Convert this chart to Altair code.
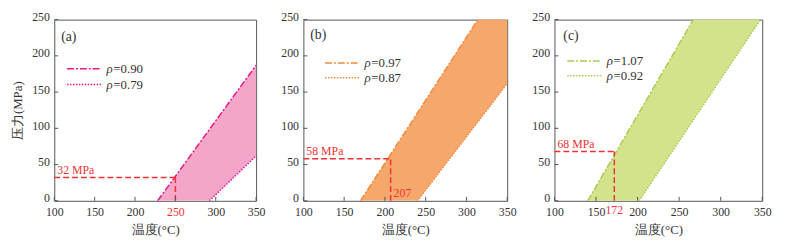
import altair as alt
import pandas as pd

# ---- data ----
panel_tags = ["(a)", "(b)", "(c)"]
rho_high = [0.90, 0.97, 1.07]
rho_low = [0.79, 0.87, 0.92]
# temperature (°C) at which each isochore crosses 0 MPa and 250 MPa
t_high_at_0 = [228, 170, 140]
t_high_at_250 = [391, 314, 267]
t_low_at_0 = [292, 240, 202]
t_low_at_250 = [526, 410, 348]
p_levels = [0, 250]
mark_t = [250, 207, 172]
mark_p = [32, 58, 68]
x_ticks = [100, 150, 200, 250, 300, 350]
y_ticks = [0, 50, 100, 150, 200, 250]

# ---- styles ----
line_colors = ["#e8168c", "#f28a3a", "#a8cb52"]
fill_colors = ["#f4a6c8", "#f6a76c", "#d3e38b"]
RED = "#ee3333"
AX = "#555555"
TXT = "#333333"
FONT = "'Liberation Serif', 'Times New Roman', serif"
widths = [205, 207, 211]
H = 184
# legend / tag placement inside each panel (px from panel's top-left)
leg_x0 = [13, 22, 13]
leg_y = [[50, 66], [44, 59], [42, 57]]
tag_pos = [(7, 18), (7, 16), (9, 17)]
DASHDOT = [7, 2, 2, 2]
DOT = [1.5, 1.5]


def panel(i):
    W = widths[i]
    xs = alt.Scale(domain=[x_ticks[0], x_ticks[-1]], nice=False, zero=False)
    ys = alt.Scale(domain=[y_ticks[0], y_ticks[-1]], nice=False, zero=False)
    xaxis_kw = dict(values=x_ticks, title="温度(°C)", grid=False, ticks=False,
                    domain=False, labelPadding=6, titlePadding=6,
                    labelOverlap=False, labelFlush=False)
    if i == 0:
        xaxis_kw["labelColor"] = alt.ExprRef(
            expr=f"datum.value == {mark_t[0]} ? '{RED}' : '{TXT}'")
    xaxis = alt.Axis(**xaxis_kw)
    yaxis = alt.Axis(values=y_ticks, title="压力(MPa)" if i == 0 else None,
                     grid=False, ticks=False, domain=False, labelPadding=5,
                     titlePadding=7, labelOverlap=False, labelFlush=False,
                     labelOffset=-3)

    band = pd.DataFrame({
        "P": p_levels,
        "Th": [t_high_at_0[i], t_high_at_250[i]],
        "Tl": [t_low_at_0[i], t_low_at_250[i]],
    })
    lc = line_colors[i]

    def X(f):
        return alt.X(f, scale=xs, axis=xaxis)

    def Y(f):
        return alt.Y(f, scale=ys, axis=yaxis)

    area = alt.Chart(band).mark_area(orient="horizontal", clip=True,
                                     color=fill_colors[i], opacity=1).encode(
        y=Y("P:Q"), x=X("Th:Q"), x2="Tl:Q")
    hi = alt.Chart(band).mark_line(clip=True, color=lc, strokeWidth=1.5,
                                   strokeDash=DASHDOT).encode(
        x=X("Th:Q"), y=Y("P:Q"))
    lo = alt.Chart(band).mark_line(clip=True, color=lc, strokeWidth=1.5,
                                   strokeDash=DOT).encode(
        x=X("Tl:Q"), y=Y("P:Q"))

    ann = pd.DataFrame({
        "x0": [x_ticks[0]], "T": [mark_t[i]], "P": [mark_p[i]],
        "p0": [y_ticks[0]], "plabel": [f"{mark_p[i]} MPa"],
        "tlabel": [str(mark_t[i])],
    })
    hrule = alt.Chart(ann).mark_rule(color=RED, strokeDash=[6, 3],
                                     strokeWidth=1.5).encode(
        x=X("x0:Q"), x2="T:Q", y=Y("P:Q"))
    vrule = alt.Chart(ann).mark_rule(color=RED, strokeDash=[6, 3],
                                     strokeWidth=1.5).encode(
        x=X("T:Q"), y=Y("p0:Q"), y2="P:Q")
    ptext = alt.Chart(ann).mark_text(align="left", baseline="bottom", dx=3,
                                     dy=-1, color=RED, font=FONT,
                                     fontSize=12).encode(
        x=X("x0:Q"), y=Y("P:Q"), text="plabel:N")
    layers = [area, hi, lo, hrule, vrule, ptext]
    if i == 1:
        layers.append(alt.Chart(ann).mark_text(
            align="left", baseline="bottom", dx=3, dy=-1, color=RED,
            font=FONT, fontSize=12).encode(
            x=X("T:Q"), y=Y("p0:Q"), text="tlabel:N"))
    if i == 2:
        layers.append(alt.Chart(ann).mark_text(
            align="center", baseline="top", color=RED, font=FONT,
            fontSize=12).encode(
            x=X("T:Q"), y=alt.value(H + 4), text="tlabel:N"))

    # inward ticks
    xt = pd.DataFrame({"v": x_ticks})
    yt = pd.DataFrame({"v": y_ticks})
    layers.append(alt.Chart(xt).mark_rule(color=AX, strokeWidth=1).encode(
        x=X("v:Q"), y=alt.value(H), y2=alt.value(H - 4)))
    layers.append(alt.Chart(yt).mark_rule(color=AX, strokeWidth=1).encode(
        y=Y("v:Q"), x=alt.value(0), x2=alt.value(4)))

    # legend
    for r, (rho, dash) in enumerate([(rho_high[i], DASHDOT), (rho_low[i], DOT)]):
        d = pd.DataFrame({"label": [f"={rho:.2f}"]})
        ly = leg_y[i][r]
        x0 = leg_x0[i]
        layers.append(alt.Chart(d).mark_rule(color=lc, strokeWidth=1.5,
                                             strokeDash=dash).encode(
            x=alt.value(x0), x2=alt.value(x0 + 35), y=alt.value(ly)))
        layers.append(alt.Chart(d).mark_text(
            text="ρ", fontStyle="italic", align="left", baseline="middle",
            font=FONT, fontSize=13, color=TXT).encode(
            x=alt.value(x0 + 40), y=alt.value(ly)))
        layers.append(alt.Chart(d).mark_text(
            align="left", baseline="middle", font=FONT, fontSize=13,
            color=TXT).encode(
            x=alt.value(x0 + 47), y=alt.value(ly), text="label:N"))

    tg = pd.DataFrame({"tag": [panel_tags[i]]})
    layers.append(alt.Chart(tg).mark_text(
        align="left", baseline="middle", font=FONT, fontSize=14,
        color=TXT).encode(
        x=alt.value(tag_pos[i][0]), y=alt.value(tag_pos[i][1]), text="tag:N"))

    return alt.layer(*layers).properties(width=W, height=H)


chart = alt.hconcat(panel(0), panel(1), panel(2), spacing=48,
                    bounds="flush").configure(font=FONT).configure_view(
    stroke=AX, strokeWidth=1).configure_axis(
    labelFont=FONT, titleFont=FONT, labelFontSize=12, titleFontSize=13,
    labelColor=TXT, titleColor=TXT, titleFontWeight="normal").properties(
    padding={"left": 3, "top": 0, "right": 5, "bottom": 0},
    background="white")

chart.save("out.html", embed_options={"renderer": "svg", "actions": False})
